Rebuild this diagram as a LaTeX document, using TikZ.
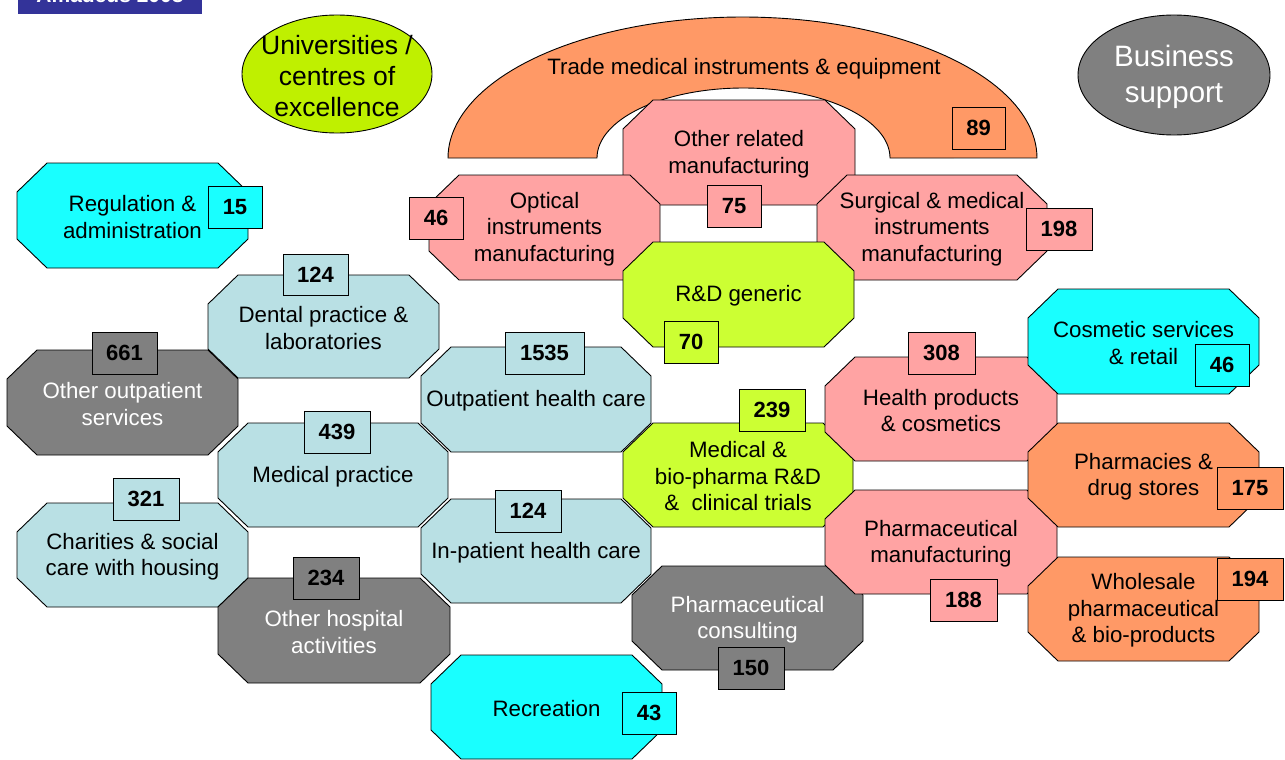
\documentclass[tikz,border=0pt]{standalone}
\usepackage{fontspec}
\setmainfont{Liberation Sans}
\usetikzlibrary{shapes.geometric}
\definecolor{cyanc}{RGB}{25,255,255}
\definecolor{lblue}{RGB}{185,224,228}
\definecolor{grayc}{RGB}{128,128,128}
\definecolor{pinkc}{RGB}{255,163,163}
\definecolor{ygc}{RGB}{204,255,51}
\definecolor{orangec}{RGB}{255,153,102}
\definecolor{limec}{RGB}{191,240,0}
\definecolor{navyc}{RGB}{51,51,153}
\tikzset{
  lbl/.style={align=center, inner sep=0pt, font=\fontsize{22.3}{26.5}\selectfont},
  numbox/.style={draw=black, line width=0.9pt, inner sep=0pt, font=\fontsize{22}{26}\selectfont\bfseries},
  octline/.style={draw=black, line width=0.9pt},
}
\newcommand\octo[8]{%
  \path[octline, fill=#2] ({#4+30},#5) -- ({#6-30},#5) -- (#6,{#5+29}) -- (#6,{#7-29}) -- ({#6-30},#7) -- ({#4+30},#7) -- (#4,{#7-29}) -- (#4,{#5+29}) -- cycle;
  \node[lbl, text=#3] (#1) at ({(#4+#6)/2},{(#5+#7)/2+1.5}) {#8};
}
\newcommand\nbox[7]{%
  \node[numbox, fill=#2, minimum width={#5-#3}, minimum height={#6-#4}] (#1) at ({(#3+#5)/2},{(#4+#6)/2}) {#7};
}
\begin{document}
\begin{tikzpicture}[x=1pt, y=-1pt]
\useasboundingbox (0,0) rectangle (1285,760);
\fill[white] (0,0) rectangle (1285,760);
% Amadeus label (cut at top, as in the reference)
\fill[navyc] (18,-20) rectangle (202,14);
\node[anchor=base, text=white, inner sep=0pt, font=\fontsize{21}{21}\selectfont\bfseries] (amad) at (110,3) {Amadeus 2008};
% ellipses
\path[octline, fill=limec] (337,74) ellipse [x radius=95pt, y radius=59pt];
\node[align=center, inner sep=0pt, font=\fontsize{26.5}{31}\selectfont] (univ) at (337,76) {Universities /\\centres of\\excellence};
\path[octline, fill=grayc] (1174,75) ellipse [x radius=96pt, y radius=60pt];
\node[align=center, inner sep=0pt, text=white, font=\fontsize{29.5}{36}\selectfont] (bus) at (1174,77) {Business\\support};
% trade arc
\path[octline, fill=orangec] plot[domain=180:0, samples=90] ({742.5+294.5*cos(\x)},{158-141*sin(\x)}) -- plot[domain=0:180, samples=90] ({743.5+146.5*cos(\x)},{158-70*sin(\x)}) -- cycle;
\node[lbl] (trade) at (744,69) {Trade medical instruments \& equipment};
% top cluster
\octo{othrel}{pinkc}{black}{623}{100}{855}{205}{Other related\\manufacturing}
\octo{optical}{pinkc}{black}{429}{175}{660}{280}{Optical\\instruments\\manufacturing}
\octo{surgical}{pinkc}{black}{817}{175}{1047}{280}{Surgical \& medical\\instruments\\manufacturing}
\octo{rdgen}{ygc}{black}{623}{242}{854}{347}{R\&D generic}
% left cluster
\octo{reg}{cyanc}{black}{17}{163}{248}{268}{Regulation \&\\administration}
\octo{dental}{lblue}{black}{208}{275}{439}{378}{Dental practice \&\\laboratories}
\octo{othout}{grayc}{white}{7}{350}{238}{455}{Other outpatient\\services}
\octo{outpat}{lblue}{black}{421}{347}{651}{452}{Outpatient health care}
\octo{medprac}{lblue}{black}{218}{423}{448}{527}{Medical practice}
\octo{charity}{lblue}{black}{17}{503}{248}{607}{Charities \& social\\care with housing}
\octo{inpat}{lblue}{black}{421}{499}{651}{603}{In-patient health care}
\octo{othhosp}{grayc}{white}{218}{578}{450}{683}{Other hospital\\activities}
\octo{recr}{cyanc}{black}{431}{655}{662}{759}{Recreation}
% middle / right
\octo{medbio}{ygc}{black}{623}{423}{853}{527}{Medical \&\\bio-pharma R\&D\\\&\ \ clinical trials}
\octo{pconsult}{grayc}{white}{632}{566}{863}{670}{Pharmaceutical\\consulting}
\octo{health}{pinkc}{black}{825}{357}{1057}{461}{Health products\\\& cosmetics}
\octo{pmanu}{pinkc}{black}{825}{490}{1057}{594}{Pharmaceutical\\manufacturing}
\octo{cosm}{cyanc}{black}{1028}{289}{1259}{394}{Cosmetic services\\\& retail}
\octo{pharm}{orangec}{black}{1028}{423}{1259}{527}{Pharmacies \&\\drug stores}
\octo{whole}{orangec}{black}{1028}{557}{1259}{661}{Wholesale\\pharmaceutical\\\& bio-products}
% number boxes
\nbox{n89}{orangec}{952}{107}{1005}{149}{89}
\nbox{n15}{cyanc}{208}{186}{262}{228}{15}
\nbox{n124a}{lblue}{283}{254}{348}{295}{124}
\nbox{n661}{grayc}{92}{332}{157}{374}{661}
\nbox{n1535}{lblue}{505}{332}{584}{374}{1535}
\nbox{n439}{lblue}{304}{411}{370}{453}{439}
\nbox{n321}{lblue}{113}{478}{179}{520}{321}
\nbox{n124b}{lblue}{495}{490}{561}{532}{124}
\nbox{n234}{grayc}{293}{557}{359}{599}{234}
\nbox{n43}{cyanc}{622}{692}{676}{734}{43}
\nbox{n46a}{pinkc}{409}{197}{463}{239}{46}
\nbox{n75}{pinkc}{707}{185}{761}{227}{75}
\nbox{n198}{pinkc}{1026}{208}{1092}{250}{198}
\nbox{n70}{ygc}{664}{321}{718}{363}{70}
\nbox{n239}{ygc}{739}{389}{805}{431}{239}
\nbox{n150}{grayc}{718}{647}{784}{689}{150}
\nbox{n308}{pinkc}{908}{332}{975}{374}{308}
\nbox{n188}{pinkc}{930}{579}{997}{621}{188}
\nbox{n46b}{cyanc}{1195}{344}{1249}{386}{46}
\nbox{n175}{orangec}{1217}{467}{1283}{509}{175}
\nbox{n194}{orangec}{1217}{558}{1283}{600}{194}
\end{tikzpicture}
\end{document}
